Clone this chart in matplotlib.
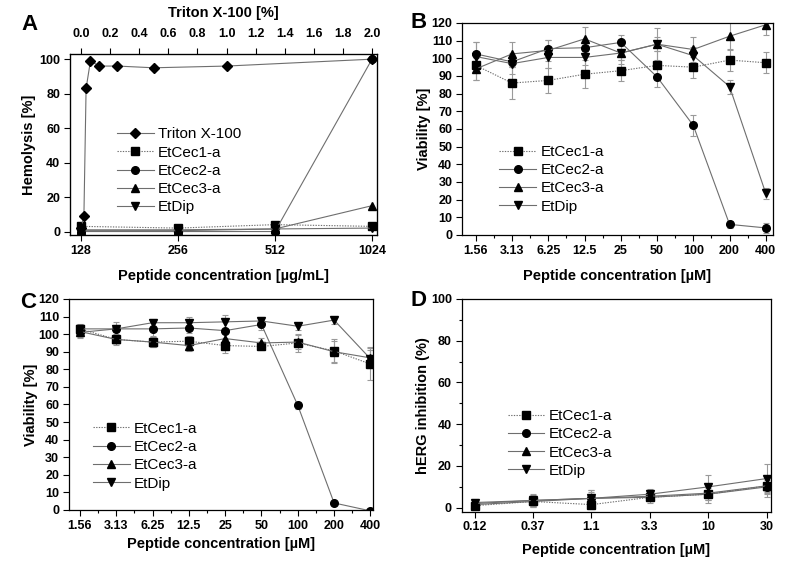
import matplotlib

matplotlib.use("Agg")
import matplotlib.pyplot as plt
from matplotlib.ticker import FixedLocator, MultipleLocator, NullFormatter

plt.rcParams["font.family"] = ["Liberation Sans", "DejaVu Sans"]

SERIES = ["EtCec1-a", "EtCec2-a", "EtCec3-a", "EtDip"]
MARKERS = {"Triton X-100": "D", "EtCec1-a": "s", "EtCec2-a": "o", "EtCec3-a": "^", "EtDip": "v"}
LSTYLE = {"Triton X-100": "-", "EtCec1-a": (0, (1.2, 1.2)), "EtCec2-a": "-", "EtCec3-a": "-", "EtDip": "-"}
LINE_C = "#6e6e6e"
ERR_C = "#9a9a9a"

# --- A: hemolysis ---
triton_pct = [0.0, 0.02, 0.035, 0.065, 0.125, 0.25, 0.5, 1.0, 2.0]
triton_hemo = [2, 9, 83, 99, 96, 96, 95, 96, 100]
pep_ugml = [128, 256, 512, 1024]
hemo = {
    "EtCec1-a": [3, 2, 4, 3],
    "EtCec2-a": [0, 0, 0, 100],
    "EtCec3-a": [1, 1, 1.5, 15],
    "EtDip": [0.5, 0.5, 1.5, 2],
}

# --- B / C: viability ---
conc_via = ["1.56", "3.13", "6.25", "12.5", "25", "50", "100", "200", "400"]
via_b = {
    "EtCec1-a": [96, 86, 87.5, 91, 93, 96, 95, 99, 97.5],
    "EtCec2-a": [102.5, 98, 105.5, 106, 109, 89.5, 62, 6, 4],
    "EtCec3-a": [94, 102.5, 104.5, 111, 103, 108, 105, 112.5, 119],
    "EtDip": [101, 97, 100.5, 100.5, 103, 108, 101.5, 84, 23.5],
}
err_b = {
    "EtCec1-a": [8, 9, 7, 8, 6, 8, 6, 6, 6],
    "EtCec2-a": [7, 3, 5, 3, 4, 6, 6, 2, 3],
    "EtCec3-a": [6, 7, 6, 7, 6, 9, 7, 8, 6],
    "EtDip": [8, 6, 6, 4, 4, 4, 5, 4, 3],
}
via_c = {
    "EtCec1-a": [103, 97, 95.5, 96, 93.5, 93, 95, 90.5, 83],
    "EtCec2-a": [101, 103, 103, 103.5, 102, 105.5, 59.5, 4, -0.5],
    "EtCec3-a": [101.5, 97, 95.5, 93.5, 97.5, 95, 95.5, 90, 86.5],
    "EtDip": [103, 103, 106.5, 106.5, 107, 107.5, 104.5, 108, 86],
}
err_c = {
    "EtCec1-a": [3, 2, 3, 3, 4, 2, 5, 7, 9],
    "EtCec2-a": [3, 2, 4, 3, 5, 3, 2, 1, 1],
    "EtCec3-a": [3, 3, 3, 3, 3, 3, 4, 6, 6],
    "EtDip": [2, 4, 2, 3, 4, 2, 2, 2, 5],
}

# --- D: hERG ---
conc_herg = ["0.12", "0.37", "1.1", "3.3", "10", "30"]
herg = {
    "EtCec1-a": [1, 3, 1.5, 5, 6.5, 10.5],
    "EtCec2-a": [1.5, 3, 4.5, 5, 6.5, 10],
    "EtCec3-a": [2, 3.5, 4.5, 5.5, 7, 10.5],
    "EtDip": [2.5, 3.5, 4.5, 6.5, 10, 14],
}
err_herg = {
    "EtCec1-a": [1.5, 2, 2, 2, 3, 3],
    "EtCec2-a": [1.5, 2.5, 4, 2.5, 4, 5],
    "EtCec3-a": [1.5, 2.5, 3, 2.5, 3.5, 4],
    "EtDip": [1.5, 3, 4, 2.5, 5.5, 7],
}

TICK_FS = 9
LAB_KW = dict(fontsize=10.5, fontweight="bold")
LEG_FS = 11


def style_axes(ax):
    ax.tick_params(direction="out", length=4, width=0.8, labelsize=TICK_FS, pad=3, right=False, top=False)
    ax.tick_params(which="minor", direction="out", length=2.5, width=0.8)
    for lab in ax.get_xticklabels() + ax.get_yticklabels():
        lab.set_fontweight("bold")
    for s in ax.spines.values():
        s.set_linewidth(0.9)


def plot_series(ax, x, ys, errs=None):
    for name in SERIES:
        ax.plot(x, ys[name], color=LINE_C, lw=0.8, ls=LSTYLE[name], marker=MARKERS[name],
                mfc="black", mec="black", ms=5.5, label=name, zorder=3)
        if errs is not None:
            ax.errorbar(x, ys[name], yerr=errs[name], fmt="none", ecolor=ERR_C, elinewidth=0.8,
                        capsize=2.5, capthick=0.8, zorder=2)


def legend(ax, x, y, handles=None):
    ax.legend(handles=handles, loc="upper left", bbox_to_anchor=(x, y), frameon=False, fontsize=LEG_FS,
              handlelength=2.4, handletextpad=0.3, labelspacing=0.28, borderpad=0, borderaxespad=0)


def panel_letter(fig, x, y, s):
    fig.text(x / 790, 1 - y / 572, s, fontsize=16, fontweight="bold", ha="left", va="center")


fig = plt.figure(figsize=(7.9, 5.72), dpi=100)

# A
axA = fig.add_axes([0.0886, 0.5892, 0.3886, 0.3164])
for name in SERIES:
    axA.plot(pep_ugml, hemo[name], color=LINE_C, lw=0.8, ls=LSTYLE[name], marker=MARKERS[name],
             mfc="black", mec="black", ms=5.5, zorder=3)
axA.set_xscale("log", base=2)
axA.set_xlim(118.4, 1061)
axA.xaxis.set_major_locator(FixedLocator(pep_ugml))
axA.xaxis.set_minor_locator(FixedLocator([]))
axA.set_xticklabels([str(v) for v in pep_ugml])
axA.xaxis.set_minor_formatter(NullFormatter())
axA.set_ylim(-2, 103)
axA.yaxis.set_major_locator(MultipleLocator(20))
axA.set_xlabel("Peptide concentration [µg/mL]", labelpad=9, **LAB_KW)
axA.set_ylabel("Hemolysis [%]", labelpad=2, **LAB_KW)
style_axes(axA)
axT = axA.twiny()
axT.plot(triton_pct, triton_hemo, color=LINE_C, lw=0.8, marker="D", mfc="black", mec="black",
         ms=5.5, zorder=3)
axT.set_xlim(-0.0756, 2.034)
axT.xaxis.set_major_locator(MultipleLocator(0.2))
axT.xaxis.set_major_formatter(plt.FuncFormatter(lambda v, p: f"{v:.1f}"))
axT.tick_params(direction="out", length=4, width=0.8, labelsize=TICK_FS, pad=6)
for lab in axT.get_xticklabels():
    lab.set_fontweight("bold")
axT.set_xlabel("Triton X-100 [%]", labelpad=8, **LAB_KW)
hA = [axT.lines[0]] + list(axA.lines)
for h, n in zip(hA, ["Triton X-100"] + SERIES):
    h.set_label(n)
legend(axA, 0.153, 0.595, handles=hA)

# B
axB = fig.add_axes([0.5848, 0.5892, 0.3933, 0.3706])
xb = list(range(len(conc_via)))
plot_series(axB, xb, via_b, err_b)
axB.set_xlim(-0.38, 8.19)
axB.set_ylim(0, 120)
axB.set_xticks(xb)
axB.set_xticklabels(conc_via)
axB.xaxis.set_minor_locator(MultipleLocator(0.5))
axB.yaxis.set_major_locator(MultipleLocator(10))
axB.set_xlabel("Peptide concentration [µM]", labelpad=9, **LAB_KW)
axB.set_ylabel("Viability [%]", labelpad=0, **LAB_KW)
style_axes(axB)
legend(axB, 0.12, 0.425)

# C
axC = fig.add_axes([0.0873, 0.1084, 0.3848, 0.3689])
plot_series(axC, xb, via_c, err_c)
axC.set_xlim(-0.30, 8.07)
axC.set_ylim(0, 120)
axC.set_xticks(xb)
axC.set_xticklabels(conc_via)
axC.xaxis.set_minor_locator(MultipleLocator(0.5))
axC.yaxis.set_major_locator(MultipleLocator(10))
axC.set_xlabel("Peptide concentration [µM]", labelpad=4, **LAB_KW)
axC.set_ylabel("Viability [%]", labelpad=0, **LAB_KW)
style_axes(axC)
legend(axC, 0.079, 0.418)

# D
axD = fig.add_axes([0.5844, 0.1054, 0.3915, 0.3719])
xd = list(range(len(conc_herg)))
plot_series(axD, xd, herg, err_herg)
axD.set_xlim(-0.22, 5.07)
axD.set_ylim(-1.9, 100)
axD.set_xticks(xd)
axD.set_xticklabels(conc_herg)
axD.yaxis.set_major_locator(MultipleLocator(20))
axD.yaxis.set_minor_locator(MultipleLocator(10))
axD.set_xlabel("Peptide concentration [µM]", labelpad=7, **LAB_KW)
axD.set_ylabel("hERG inhibition (%)", labelpad=1, **LAB_KW)
style_axes(axD)
legend(axD, 0.149, 0.483)

panel_letter(fig, 21, 25, "A")
panel_letter(fig, 411, 22, "B")
panel_letter(fig, 20, 302, "C")
panel_letter(fig, 411, 300, "D")

fig.savefig("out.png", dpi=100)
